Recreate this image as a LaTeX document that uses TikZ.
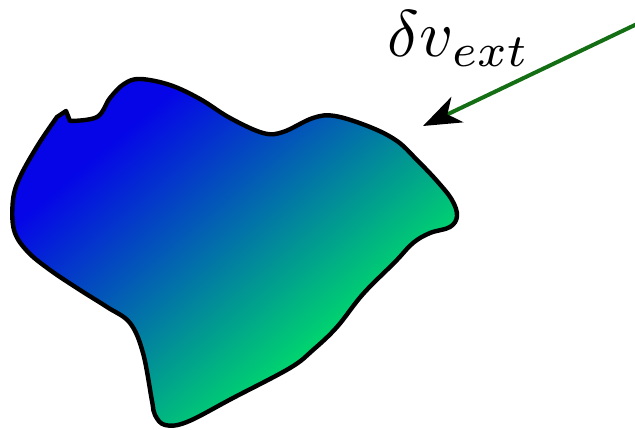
\documentclass[tikz,border=0pt]{standalone}
\usepackage{amsmath}
\usepackage{tikz}
\usetikzlibrary{arrows.meta,positioning}
\usepackage{xcolor}
\definecolor{cBlue}{RGB}{5,5,232}
\definecolor{cGreen}{RGB}{0,214,110}
\definecolor{cArrow}{RGB}{20,110,20}
\pgfdeclareverticalshading{blobshade}{100bp}{color(0bp)=(cGreen); color(34bp)=(cGreen);
  color(71bp)=(cBlue); color(100bp)=(cBlue)}

\begin{document}
\begin{tikzpicture}[
  x=1pt, y=-1pt,
  blob/.style={draw=black, line width=4.4pt, line join=round,
    shading=blobshade, shading angle=40},
  ar/.style={-{Stealth[length=38pt, width=28pt, inset=11pt, black]},
    draw=cArrow, line width=4pt},
  lbl/.style={inner sep=0pt, scale=6.6}]
\useasboundingbox (0,0) rectangle (635,430);
% the body
\draw[blob] (66,111) -- (70,121) -- plot[smooth, tension=0.6] coordinates {
  (70,121) (97,117) (110,98) (124,84) (140,79) (170,85) (200,99) (230,118)
  (263,133) (283,132) (313,118) (335,116) (370,127) (397,141) (417,160)
  (437,181) (452,200) (457,216) (450,227) (430,233) (413,243) (395,262)
  (363,294) (337,327) (313,350) (290,368) (233,398) (187,422) (165,425)
  (155,415) (152,401) (143,353) (130,323) (107,307) (80,290) (50,270)
  (27,251) (14,230) (13,200) (20,177) (38,145) (57,117)} -- cycle;
% external push
\coordinate (src) at (637,24);
\coordinate (tip) at (423,126);
\draw[ar] (src) -- (tip);
\node[lbl] (dv) at (459,39) {$\delta v_{ext}$};
\end{tikzpicture}
\end{document}
